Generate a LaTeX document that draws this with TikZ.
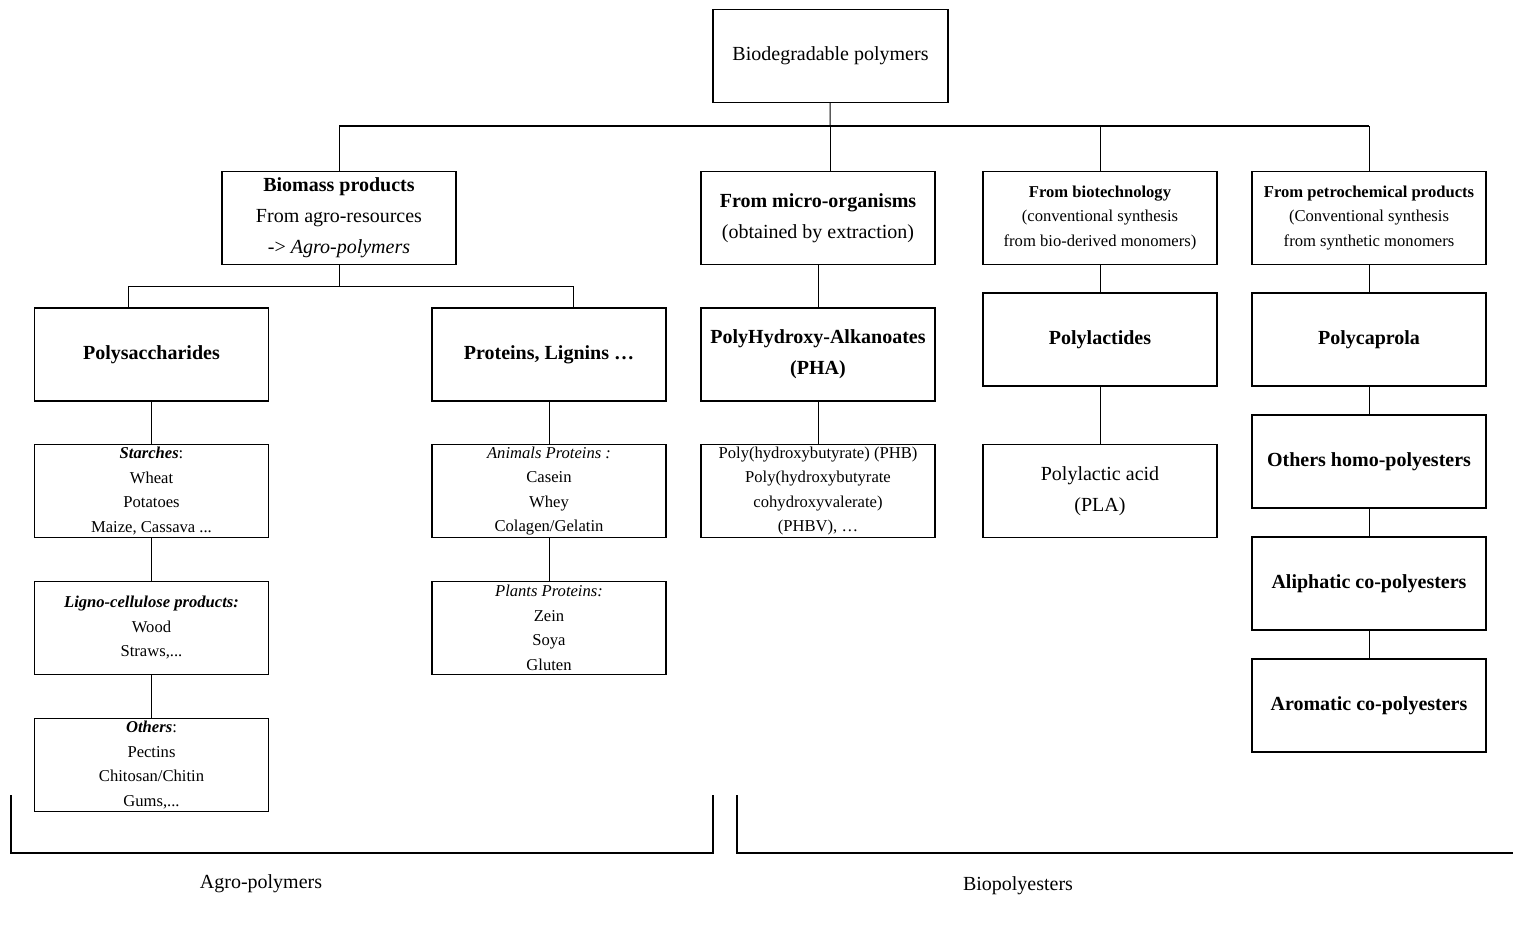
\documentclass[tikz,border=0pt]{standalone}
\usepackage{fontspec}
\setmainfont{Liberation Serif}
\newcommand\boxfont{\fontsize{10}{15.5}\selectfont}
\newcommand\notefont{\fontsize{8.3}{12.25}\selectfont}
\begin{document}
\begin{tikzpicture}[
  x=0.5pt, y=-0.5pt,
  every node/.style={rectangle,draw,line width=0.6pt,minimum width=117pt,
    minimum height=46.5pt,inner sep=0pt,align=center,font=\boxfont},
  note/.style={font=\notefont},
  groupname/.style={draw=none,minimum width=0pt,minimum height=0pt,inner sep=1pt},
  line width=0.5pt
]
  \useasboundingbox (0,0) rectangle (1513,926);

  \node (root) at (830.5,56) [minimum width=117.5pt] {Biodegradable polymers};

  \node (biomass) at (339,218)  {\textbf{Biomass products}\\From agro-resources\\-> \textit{Agro-polymers}};
  \node (micro)   at (818,218)  {\textbf{From micro-organisms}\\(obtained by extraction)};
  \node[note] (biotech) at (1100,218) {\textbf{From biotechnology}\\(conventional synthesis\\from bio-derived monomers)};
  \node[note] (petro)   at (1369,218) {\textbf{From petrochemical products}\\(Conventional synthesis\\from synthetic monomers};

  \node (poly)     at (151.5,354.5) {\textbf{Polysaccharides}};
  \node (prot)     at (549,354.5)   {\textbf{Proteins, Lignins …}};
  \node (pha)      at (818,354.5)   {\textbf{PolyHydroxy-Alkanoates}\\\textbf{(PHA)}};
  \node (lactides) at (1100,339.5)  {\textbf{Polylactides}};
  \node (caprola)  at (1369,339.5)  {\textbf{Polycaprola}};

  \node[note] (starch) at (151.5,491) {\textbf{\textit{Starches}}:\\Wheat\\Potatoes\\Maize, Cassava ...};
  \node[note] (animal) at (549,491)   {\textit{Animals Proteins :}\\Casein\\Whey\\Colagen/Gelatin};
  \node[note] (phb)    at (818,491)   {Poly(hydroxybutyrate) (PHB)\\Poly(hydroxybutyrate\\cohydroxyvalerate)\\(PHBV), …};
  \node (pla)          at (1100,491)  {Polylactic acid\\(PLA)};
  \node (homo)         at (1369,461.5) {\textbf{Others homo-polyesters}};

  \node[note] (ligno)  at (151.5,628) {\textbf{\textit{Ligno-cellulose products:}}\\Wood\\Straws,...};
  \node[note] (plant)  at (549,628)   {\textit{Plants Proteins:}\\Zein\\Soya\\Gluten};
  \node (aliph)        at (1369,583.5) {\textbf{Aliphatic co-polyesters}};

  \node[note] (others) at (151.5,765) {\textbf{\textit{Others}}:\\Pectins\\Chitosan/Chitin\\Gums,...};
  \node (arom)         at (1369,705.5) {\textbf{Aromatic co-polyesters}};

  % main bus
  \coordinate (bus) at (830,126);
  \draw (root) -- (bus);
  \draw[line width=0.8pt] (biomass.north |- bus) -- (petro.north |- bus);
  \draw (biomass) -- (biomass.north |- bus);
  \draw (bus) -- (bus |- micro.north);
  \draw (biotech) -- (biotech.north |- bus);
  \draw (petro) -- (petro.north |- bus);

  % agro bus
  \coordinate (agroL) at (128,286);
  \coordinate (agroR) at (573,286);
  \draw (biomass) -- (biomass.south |- agroL);
  \draw (poly.north -| agroL) -- (agroL) -- (agroR) -- (prot.north -| agroR);

  \draw (poly) -- (starch);
  \draw (starch) -- (ligno);
  \draw (ligno) -- (others);
  \draw (prot) -- (animal);
  \draw (animal) -- (plant);
  \draw (micro) -- (pha);
  \draw (pha) -- (phb);
  \draw (biotech) -- (lactides);
  \draw (lactides) -- (pla);
  \draw (petro) -- (caprola);
  \draw (caprola) -- (homo);
  \draw (homo) -- (aliph);
  \draw (aliph) -- (arom);

  % brackets
  \draw[line width=0.8pt] (11,795) -- (11,853) -- (713,853) -- (713,795);
  \draw[line width=0.8pt] (737,795) -- (737,853) -- (1513,853);
  \node[groupname] (agro) at (261,884) {Agro-polymers};
  \node[groupname] (biopol) at (1018,886) {Biopolyesters};
\end{tikzpicture}
\end{document}
